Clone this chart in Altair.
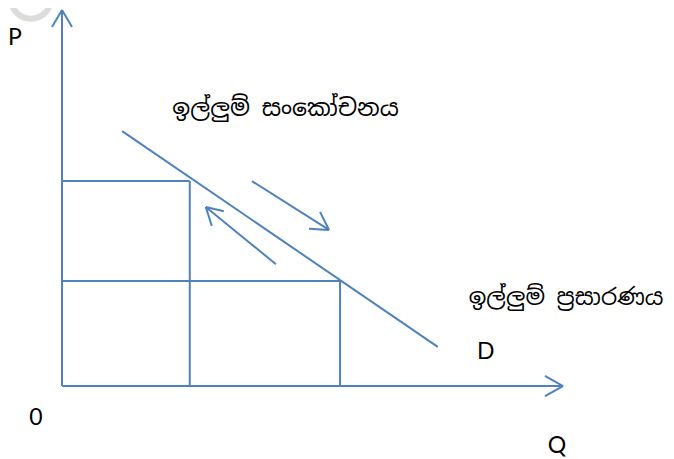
import altair as alt
import pandas as pd

# ---- data (economic units: Q horizontal, P vertical) ----
# axes extents
axis_max_q = 10.0
axis_max_p = 10.0
# demand curve end points
demand_q = [1.2, 7.5]
demand_p = [6.78, 1.04]
# two price levels and matching quantities
price_levels = [5.45, 2.79]
quantities = [2.55, 5.55]
# movement arrows along the curve (start -> tip)
contraction_q = [4.27, 2.87]
contraction_p = [3.24, 4.76]
expansion_q = [3.79, 5.33]
expansion_p = [5.45, 4.15]
# arrow-head arm points
contraction_head_q = [3.23, 2.99]
contraction_head_p = [4.65, 4.26]
expansion_head_q = [4.93, 5.15]
expansion_head_p = [4.18, 4.63]
yhead_q = [-0.2, 0.2]
yhead_p = [9.55, 9.55]
xhead_q = [9.64, 9.64]
xhead_p = [0.27, -0.27]

labels_text = ["P", "0", "Q", "D", "ඉල්ලුම් සංකෝචනය", "ඉල්ලුම් ප්‍රසාරණය"]
labels_q = [-0.94, -0.52, 9.88, 8.46, 2.2, 8.12]
labels_p = [9.26, -0.85, -1.6, 0.9, 7.37, 2.34]
labels_size = [23, 23, 23, 23, 23.5, 23]

# faint watermark ring fragment (top-left corner)
mark_q = [-0.62]
mark_p = [10.3]

# ---- segments ----
segs = []
def seg(x1, y1, x2, y2):
    segs.append({"x": x1, "y": y1, "x2": x2, "y2": y2})

seg(0, 0, 0, axis_max_p)            # P axis
seg(0, 0, axis_max_q, 0)            # Q axis
for q, p in zip(yhead_q, yhead_p):
    seg(0, axis_max_p, q, p)
for q, p in zip(xhead_q, xhead_p):
    seg(axis_max_q, 0, q, p)
seg(demand_q[0], demand_p[0], demand_q[1], demand_p[1])
for pl, qt in zip(price_levels, quantities):
    seg(0, pl, qt, pl)
    seg(qt, pl, qt, 0)
seg(contraction_q[0], contraction_p[0], contraction_q[1], contraction_p[1])
for q, p in zip(contraction_head_q, contraction_head_p):
    seg(contraction_q[1], contraction_p[1], q, p)
seg(expansion_q[0], expansion_p[0], expansion_q[1], expansion_p[1])
for q, p in zip(expansion_head_q, expansion_head_p):
    seg(expansion_q[1], expansion_p[1], q, p)

seg_df = pd.DataFrame(segs)
lab_df = pd.DataFrame({"t": labels_text, "x": labels_q, "y": labels_p, "s": labels_size})
latin = lab_df.iloc[:4]
sinh = lab_df.iloc[4:]
wm_df = pd.DataFrame({"x": mark_q, "y": mark_p})

xs = alt.Scale(domain=[-1.078, 12.056], nice=False, zero=False)
ys = alt.Scale(domain=[-1.941, 10.053], nice=False, zero=False)
BLUE = "#4f81bd"

X = lambda: alt.X("x:Q", scale=xs, axis=None)
Y = lambda: alt.Y("y:Q", scale=ys, axis=None)

watermark = alt.Chart(wm_df).mark_arc(
    color="#dcdcdc", radius=23, radius2=17, theta=2.0, theta2=4.75
).encode(x=X(), y=Y())

lines = alt.Chart(seg_df).mark_rule(color=BLUE, strokeWidth=2).encode(
    x=X(), y=Y(), x2="x2:Q", y2="y2:Q",
)

latin_txt = alt.Chart(latin).mark_text(
    font="Lato", color="#000000", align="center", baseline="middle"
).encode(x=X(), y=Y(), text="t:N", size=alt.Size("s:Q", scale=None, legend=None))

sinh_txt = alt.Chart(sinh).mark_text(
    font="Noto Sans Sinhala, Iskoola Pota, sans-serif", color="#000000",
    align="left", baseline="middle"
).encode(x=X(), y=Y(), text="t:N", size=alt.Size("s:Q", scale=None, legend=None))

chart = alt.layer(watermark, lines, latin_txt, sinh_txt).properties(
    width=658, height=451, padding=0, autosize="none"
).configure_view(stroke=None)

chart.save("out.html", embed_options={"renderer": "svg", "actions": False})
